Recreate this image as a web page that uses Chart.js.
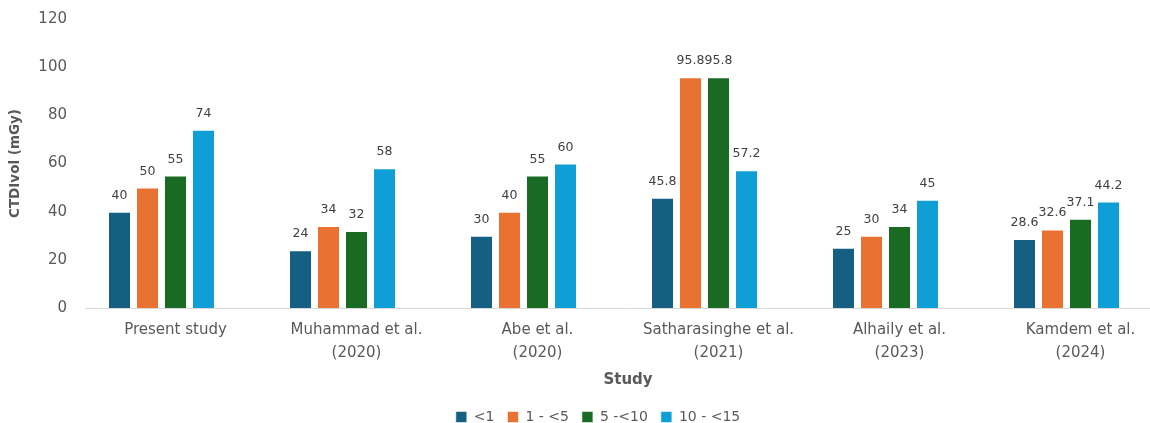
<!DOCTYPE html>
<html>
<head>
<meta charset="utf-8">
<script src="https://cdn.jsdelivr.net/npm/chart.js@4.4.1/dist/chart.umd.min.js"></script>
<style>
  html, body { margin: 0; padding: 0; background: #ffffff; overflow: hidden; }
  #wrap { width: 1196px; height: 423px; }
</style>
</head>
<body>
<div id="wrap"><canvas id="c" width="1196" height="423"></canvas></div>
<script>
const categories = [
  "Present study",
  ["Muhammad et al.", "(2020)"],
  ["Abe et al.", "(2020)"],
  ["Satharasinghe et al.", "(2021)"],
  ["Alhaily et al.", "(2023)"],
  ["Kamdem et al.", "(2024)"]
];
const seriesNames = ["<1", "1 - <5", "5 -<10", "10 - <15"];
const seriesLt1 = [40, 24, 30, 45.8, 25, 28.6];
const series1to5 = [50, 34, 40, 95.8, 30, 32.6];
const series5to10 = [55, 32, 55, 95.8, 34, 37.1];
const series10to15 = [74, 58, 60, 57.2, 45, 44.2];
const emptySeries = [null, null, null, null, null, null];
const yTicks = [0, 20, 40, 60, 80, 100, 120];
const colors = ["#156082", "#E97132", "#196B24", "#0F9ED5"];

const FONT = "'DejaVu Sans', sans-serif";
const TEXT = "#595959";

const valueLabels = {
  id: 'valueLabels',
  afterDatasetsDraw(chart) {
    const ctx = chart.ctx;
    ctx.save();
    ctx.font = "12.5px " + FONT;
    ctx.fillStyle = "#404040";
    ctx.textAlign = "center";
    ctx.textBaseline = "alphabetic";
    chart.data.datasets.forEach((ds, di) => {
      if (di > 3) return;
      const meta = chart.getDatasetMeta(di);
      meta.data.forEach((bar, i) => {
        const v = ds.data[i];
        if (v === null || v === undefined) return;
        ctx.fillText(String(v), bar.x, bar.y - 13);
      });
    });
    ctx.restore();
  }
};

const dataArrays = [seriesLt1, series1to5, series5to10, series10to15];
const datasets = dataArrays.map((d, i) => ({
  label: seriesNames[i],
  data: d,
  backgroundColor: colors[i],
  borderColor: "rgba(255,255,255,0.55)",
  borderWidth: 1,
  categoryPercentage: 140 / 181,
  barPercentage: 23 / 28,
  yAxisID: 'y'
}));
datasets.push({
  label: "",
  data: emptySeries,
  backgroundColor: "rgba(0,0,0,0)",
  categoryPercentage: 140 / 181,
  barPercentage: 23 / 28,
  yAxisID: 'y'
});

new Chart(document.getElementById('c'), {
  type: 'bar',
  data: { labels: categories, datasets: datasets },
  plugins: [valueLabels],
  options: {
    responsive: false,
    animation: false,
    devicePixelRatio: 1,
    layout: { padding: { top: 19, bottom: -11, left: 0, right: 0 } },
    plugins: {
      legend: {
        position: 'bottom',
        labels: {
          font: { family: FONT, size: 14 },
          color: TEXT,
          boxWidth: 11,
          boxHeight: 11,
          padding: 13,
          filter: (item) => item.datasetIndex < 4
        }
      },
      tooltip: { enabled: false }
    },
    scales: {
      x: {
        offset: true,
        grid: { display: false, drawTicks: false },
        border: { display: true, color: "#d9d9d9", width: 1 },
        ticks: {
          font: { family: FONT, size: 15, lineHeight: 1.5 },
          color: TEXT,
          padding: 11,
          maxRotation: 0,
          autoSkip: false
        },
        title: {
          display: true,
          text: "Study",
          font: { family: FONT, size: 15, weight: 'bold' },
          color: TEXT,
          padding: { top: 0, bottom: 8 }
        },
        afterFit: (s) => { s.height = 89; }
      },
      y: {
        position: 'left',
        min: 0,
        max: 120,
        afterBuildTicks: (s) => { s.ticks = yTicks.map(v => ({ value: v })); },
        grid: { display: false, drawTicks: false },
        border: { display: false },
        ticks: {
          font: { family: FONT, size: 15 },
          color: TEXT,
          padding: 18
        },
        title: {
          display: true,
          text: "CTDIvol (mGy)",
          font: { family: FONT, size: 13.5, weight: 'bold' },
          color: TEXT,
          padding: { top: 7, bottom: 0 }
        },
        afterFit: (s) => { s.width = 85; s.paddingTop = 0; s.paddingBottom = 0; }
      },
      y2: {
        position: 'right',
        display: true,
        grid: { display: false, drawTicks: false },
        border: { display: false },
        ticks: { display: false },
        afterFit: (s) => { s.width = 25; s.paddingTop = 0; s.paddingBottom = 0; }
      }
    }
  }
});
</script>
</body>
</html>
